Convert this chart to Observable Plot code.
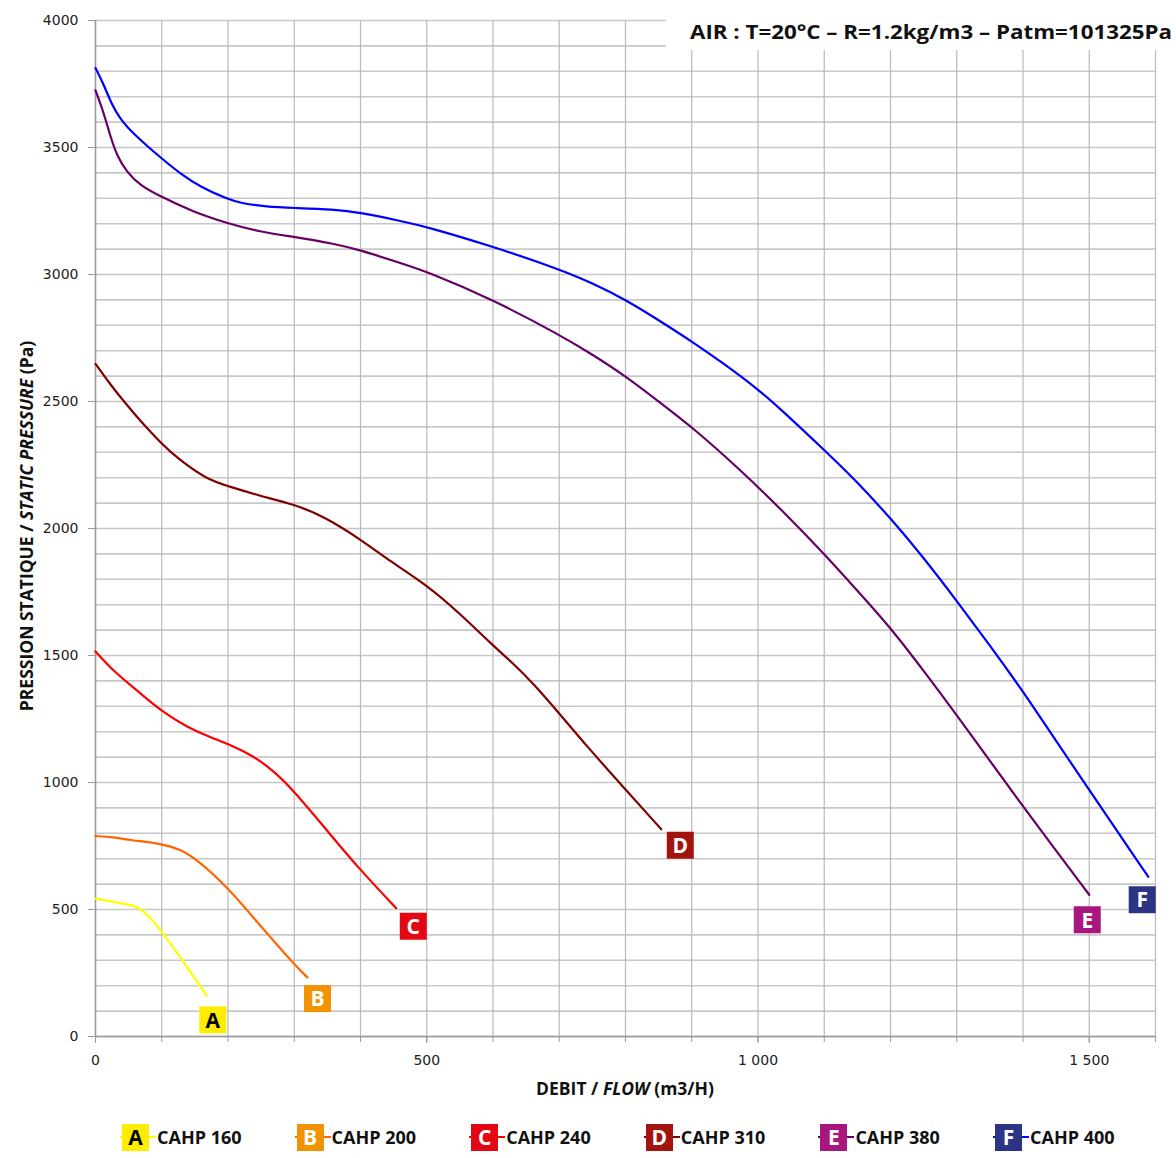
<!DOCTYPE html>
<html><head><meta charset="utf-8">
<script src="https://cdn.jsdelivr.net/npm/d3@7"></script>
<script src="https://cdn.jsdelivr.net/npm/@observablehq/plot@0.6"></script>
<style>
body{margin:0;background:#fff;font-family:"Open Sans",sans-serif;}
#chart{position:relative;width:1176px;}
#legend{position:relative;width:1176px;height:48px;}
.item{position:absolute;top:14px;height:27px;}
.box{position:absolute;left:0;top:0;width:27px;height:27px;display:flex;align-items:center;justify-content:center;font-weight:700;font-size:21px;line-height:27px;}
.stub{position:absolute;left:-2px;width:36px;top:12px;height:2px;}
.name{position:absolute;left:35px;top:0;line-height:27px;font-weight:700;font-size:18px;color:#111;white-space:nowrap;}
</style></head><body>
<div id="chart"></div><div id="legend"></div>
<script>
// ---- data ----
const seriesKeys = ["A","B","C","D","E","F"];
const seriesNames = ["CAHP 160","CAHP 200","CAHP 240","CAHP 310","CAHP 380","CAHP 400"];
const flowA = [0,27,52,72,100,128,168];
const presA = [543,529,520,501,415,311,160];
const flowB = [0,27,52,100,128,153,200,249,300,320];
const presB = [789,785,773,759,737,697,586,435,284,232];
const flowC = [0,27,67,100,138,178,200,239,269,300,350,400,454];
const presC = [1516,1438,1353,1280,1218,1173,1152,1104,1045,966,809,654,505];
const flowD = [0,23,43,68,100,123,168,200,244,300,344,400,445,500,551,600,631,661,700,742,800,854];
const presD = [2648,2565,2500,2422,2333,2278,2193,2167,2131,2095,2049,1958,1870,1778,1663,1539,1468,1389,1272,1142,972,816];
const flowE = [0,12,22,32,47,67,100,148,200,248,300,359,400,460,500,600,700,750,800,849,900,975,1033,1100,1149,1200,1250,1300,1400,1500];
const presE = [3725,3640,3548,3469,3404,3351,3305,3246,3201,3168,3148,3122,3096,3045,3012,2901,2763,2685,2600,2502,2401,2227,2080,1900,1758,1610,1440,1266,904,558];
const flowF = [0,12,24,37,57,100,128,158,200,218,258,300,359,400,460,500,600,700,750,800,849,900,950,1000,1033,1100,1149,1200,1250,1300,1350,1400,1500,1589];
const presF = [3813,3751,3672,3613,3554,3456,3397,3345,3296,3282,3266,3262,3257,3244,3211,3188,3110,3021,2966,2901,2822,2737,2646,2548,2473,2309,2185,2041,1885,1715,1540,1360,969,629];
const xTicks = [0,500,1000,1500];
const yTicks = [0,500,1000,1500,2000,2500,3000,3500,4000];
const note = "AIR : T=20°C – R=1.2kg/m3 – Patm=101325Pa";

// ---- styles ----
const lineColors = {A:"#FFFF00",B:"#FF6600",C:"#FF0000",D:"#800000",E:"#660066",F:"#0000FF"};
const boxColors = {A:"#FFED00",B:"#F39200",C:"#E30613",D:"#A3140F",E:"#A8177E",F:"#2B3584"};
const letterColors = {A:"#000",B:"#fff",C:"#fff",D:"#fff",E:"#fff",F:"#fff"};
const labelOffsets = {A:[6,24],B:[10,21],C:[17,18],D:[19,16],E:[-2,25],F:[-6,23]};

const flows = {A:flowA,B:flowB,C:flowC,D:flowD,E:flowE,F:flowF};
const press = {A:presA,B:presB,C:presC,D:presD,E:presE,F:presF};
const rows = seriesKeys.flatMap(k => flows[k].map((f,i)=>({key:k, flow:f, pres:press[k][i]})));

const fmt = d => d >= 1000 ? `${Math.floor(d/1000)} ${String(d%1000).padStart(3,"0")}` : String(d);

const marks = [
  Plot.gridY(d3.range(0,4001,100), {stroke:"#c8c8c8", strokeOpacity:1, strokeWidth:1.6}),
  Plot.gridX(d3.range(0,1601,100), {stroke:"#b9b9b9", strokeOpacity:1, strokeWidth:1.2}),
  Plot.axisX(d3.range(0,1601,100), {tickSize:6, text:null, stroke:"#999", label:null}),
  Plot.axisX(xTicks, {tickSize:7, tickPadding:12, tickFormat:fmt, stroke:"#999", fill:"#222", fontSize:14, label:null}),
  Plot.axisY(yTicks, {tickSize:7, tickPadding:10, tickFormat:d=>String(d), stroke:"#999", fill:"#222", fontSize:14, label:null}),
  Plot.ruleX([0], {stroke:"#999", strokeWidth:1.5}),
  Plot.ruleY([0], {stroke:"#999", strokeWidth:1.5}),
];
for (const k of seriesKeys) {
  marks.push(Plot.line(rows.filter(r=>r.key===k), {x:"flow", y:"pres", stroke:lineColors[k], strokeWidth:2.2, curve:"basis"}));
}
for (const k of seriesKeys) {
  const last = rows.filter(r=>r.key===k).at(-1);
  const [dx,dy] = labelOffsets[k];
  marks.push(Plot.dot([last], {x:"flow", y:"pres", symbol:"square", r:15.23, fill:boxColors[k], stroke:null, dx, dy}));
  marks.push(Plot.text([last], {x:"flow", y:"pres", text:()=>k, fill:letterColors[k], fontSize:21, fontWeight:"bold", fontFamily:"Open Sans", dx, dy:dy+1}));
}

const svg = Plot.plot({
  width:1176, height:1110,
  marginLeft:95, marginRight:21, marginTop:20, marginBottom:74,
  x:{domain:[0,1600]},
  y:{domain:[0,4000]},
  style:{fontFamily:"DejaVu Sans", fontSize:"14px", background:"#fff", overflow:"visible"},
  marks
});

const s = d3.select(svg);
// white patch behind the note
s.append("rect").attr("x",666).attr("y",0).attr("width",510).attr("height",50).attr("fill","#fff");
s.append("text").attr("x",690).attr("y",39).attr("text-anchor","start").attr("font-family","Open Sans").attr("font-weight","bold")
 .attr("font-size",20).attr("fill","#111").attr("textLength",482).attr("lengthAdjust","spacingAndGlyphs").text(note);

const yl = s.append("text").attr("transform","translate(33,526) rotate(-90)").attr("text-anchor","middle")
 .attr("font-family","Open Sans").attr("font-weight","bold").attr("font-size",17.5).attr("fill","#111");
yl.append("tspan").text("PRESSION STATIQUE / ");
yl.append("tspan").attr("font-style","italic").text("STATIC PRESSURE");
yl.append("tspan").text(" (Pa)");

const xl = s.append("text").attr("x",625).attr("y",1095).attr("text-anchor","middle")
 .attr("font-family","Open Sans").attr("font-weight","bold").attr("font-size",17.5).attr("fill","#111");
xl.append("tspan").text("DEBIT / ");
xl.append("tspan").attr("font-style","italic").text("FLOW");
xl.append("tspan").text(" (m3/H)");

document.getElementById("chart").append(svg);

// legend
const legend = d3.select("#legend");
seriesKeys.forEach((k,i)=>{
  const it = legend.append("div").attr("class","item").style("left", (122 + i*174.6)+"px");
  it.append("div").attr("class","stub").style("background", lineColors[k]);
  it.append("div").attr("class","box").style("background", boxColors[k]).style("color", letterColors[k]).text(k);
  it.append("div").attr("class","name").text(seriesNames[i]);
});
</script>
</body></html>
